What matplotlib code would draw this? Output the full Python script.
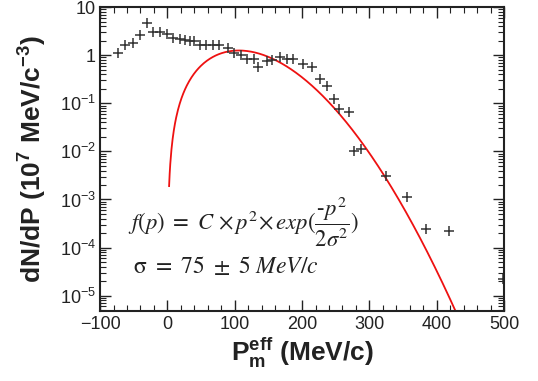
import numpy as np
import matplotlib.pyplot as plt
from matplotlib.ticker import FixedLocator, FuncFormatter, MultipleLocator, LogLocator

plt.rcParams['font.family'] = ['Liberation Sans', 'DejaVu Sans']
plt.rcParams['mathtext.fontset'] = 'custom'
plt.rcParams['mathtext.rm'] = 'Liberation Sans'
plt.rcParams['mathtext.it'] = 'Liberation Sans:italic'
plt.rcParams['mathtext.bf'] = 'Liberation Sans:bold'

# measured points (MeV/c, 10^7 MeV/c^-3)
p_data = [-73, -63, -51, -41, -31, -22, -11, -1, 9, 18, 26, 33, 40, 49, 58, 68, 77,
          90, 99, 110, 118, 128, 135, 148, 156, 167, 178, 187, 201, 215, 227, 237,
          248, 255, 270, 277, 288, 324, 356, 384, 418, 499]
dndp = [1.14, 1.6, 1.8, 2.67, 4.8, 3.0, 3.1, 2.74, 2.3, 2.2, 2.1, 2.03, 1.94, 1.65, 1.6, 1.6, 1.6,
        1.41, 1.14, 1.02, 0.83, 0.83, 0.58, 0.77, 0.81, 0.9, 0.83, 0.83, 0.66, 0.58, 0.32, 0.235,
        0.124, 0.076, 0.065, 0.0104, 0.0113, 0.0031, 0.00114, 2.4e-4, 2.2e-4, 2.2e-5]

# fit f(p) = C p^2 exp(-p^2 / 2 sigma^2)
sigma = 75.0
C = 3.04e-4
p_fit_min, p_fit_max = 2.5, 440

fig = plt.figure(figsize=(5.38, 3.81), dpi=100)
ax = fig.add_axes([0.186, 0.184, 0.751, 0.797])

p = np.linspace(p_fit_min, p_fit_max, 500)
ax.plot(p, C * p**2 * np.exp(-p**2 / (2 * sigma**2)), color='#ee1111', lw=1.3)
ax.plot(p_data, dndp, ls='none', marker='+', ms=7, mew=1.1, color='#333333')

ax.set_yscale('log')
ax.set_xlim(-100, 500)
ax.set_ylim(4.8e-6, 10)

ax.xaxis.set_major_locator(MultipleLocator(100))
ax.xaxis.set_minor_locator(MultipleLocator(20))
ax.yaxis.set_major_locator(FixedLocator([1e-5, 1e-4, 1e-3, 1e-2, 1e-1, 1, 10]))
ax.yaxis.set_minor_locator(LogLocator(base=10, subs=np.arange(2, 10), numticks=20))

def ylab(v, pos):
    e = int(round(np.log10(v)))
    if e == 1:
        return '10'
    if e == 0:
        return '1'
    return r'$10^{%d}$' % e

ax.yaxis.set_major_formatter(FuncFormatter(ylab))
ax.xaxis.set_major_formatter(FuncFormatter(lambda v, pos: '%d' % v if v >= 0 else '\u2212%d' % -v))

ax.tick_params(which='both', direction='in', top=True, right=True, colors='#222222',
               labelsize=13, labelcolor='#222222')
ax.tick_params(which='major', length=8, width=1.0)
ax.tick_params(which='minor', length=4, width=0.8)
ax.tick_params(axis='x', pad=4)
ax.tick_params(axis='y', pad=3)
for s in ax.spines.values():
    s.set_linewidth(1.5)
    s.set_color('#222222')

ax.set_xlabel(r'$\mathbf{P^{eff}_{m}}$ (MeV/c)', fontsize=19, fontweight='bold', labelpad=2,
              color='#222222')
ax.set_ylabel(r'dN/dP (10$^{\mathbf{7}}$ MeV/c$^{\mathbf{-3}}$)', fontsize=19,
              fontweight='bold', labelpad=8, color='#222222')

ax.text(0.069, 0.293, r'$f(p)\ =\ C\,\times p^2\!\times exp(\dfrac{\text{-}p^2}{2\sigma^2})$',
        transform=ax.transAxes, fontsize=16.3, math_fontfamily='stix', color='#222222',
        va='center')
ax.text(0.082, 0.146, r'$\mathrm{\sigma}\ =\ \mathit{75}\ \pm\ \mathit{5}\ MeV/c$',
        transform=ax.transAxes, fontsize=17, math_fontfamily='stix', color='#222222',
        va='center')

fig.savefig('out.png', dpi=100)
